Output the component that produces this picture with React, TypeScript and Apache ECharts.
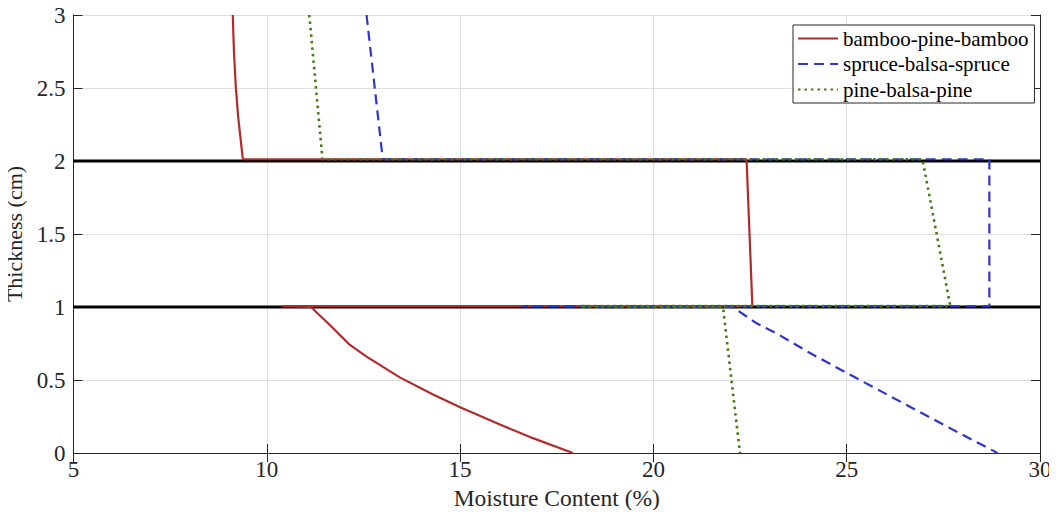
import React, { useEffect, useRef } from "react";
import * as echarts from "echarts";

const seriesNames = ["bamboo-pine-bamboo", "spruce-balsa-spruce", "pine-balsa-pine"];

const bambooPineBamboo: [number, number][] = [
  [9.12, 3.0], [9.15, 2.75], [9.2, 2.5], [9.26, 2.3], [9.38, 2.012],
  [22.41, 2.012], [22.56, 1.006], [10.4, 1.006], [11.14, 1.0],
  [11.63, 0.877], [12.15, 0.74], [12.58, 0.66], [13.44, 0.518],
  [14.3, 0.4], [15.0, 0.313], [16.03, 0.195], [16.9, 0.1], [17.92, 0.0],
];

const spruceBalsaSpruce: [number, number][] = [
  [12.58, 3.0], [13.0, 2.012], [28.69, 2.012], [28.69, 1.006], [16.6, 1.006],
  [22.05, 1.0], [22.67, 0.888], [23.18, 0.82], [24.05, 0.685], [25.2, 0.52],
  [26.4, 0.35], [27.6, 0.18], [28.9, 0.0],
];

const pineBalsaPine: [number, number][] = [
  [11.1, 3.0], [11.44, 2.012], [26.96, 2.012], [27.68, 1.006], [18.1, 1.006],
  [21.8, 1.0], [22.24, 0.0],
];

const interfaceLevels = [1, 2];
const xRange = [5, 30];
const yRange = [0, 3];

const FONT = "Liberation Serif";
const AXIS_COLOR = "#262626";

export default function App() {
  const ref = useRef<HTMLDivElement>(null);
  useEffect(() => {
    if (!ref.current) return;
    const chart = echarts.init(ref.current, undefined, { renderer: "svg" });
    const tickCommon = { show: true, inside: true, length: 9, lineStyle: { color: AXIS_COLOR } };
    const lineCommon = { show: true, lineStyle: { color: AXIS_COLOR, width: 1 } };
    chart.setOption({
      animation: false,
      backgroundColor: "#fff",
      textStyle: { fontFamily: FONT },
      grid: {
        left: 73.5, right: 17, top: 15, bottom: 65,
        containLabel: false,
        outerBoundsMode: "none",
      },
      legend: {
        data: seriesNames,
        orient: "vertical",
        left: 793,
        top: 25,
        backgroundColor: "#fff",
        borderColor: AXIS_COLOR,
        borderWidth: 1,
        borderRadius: 0,
        padding: [3, 6, 3, 4],
        itemGap: 4.5,
        itemWidth: 40,
        itemHeight: 20,
        itemStyle: { opacity: 0, borderWidth: 0 },
        textStyle: { fontFamily: FONT, fontSize: 21, color: "#000" },
      },
      xAxis: [
        {
          type: "value",
          min: xRange[0],
          max: xRange[1],
          interval: 5,
          name: "Moisture Content (%)",
          nameLocation: "middle",
          nameGap: 31,
          nameTextStyle: { fontFamily: FONT, fontSize: 23.5, color: AXIS_COLOR },
          axisLine: lineCommon,
          axisTick: tickCommon,
          axisLabel: { fontFamily: FONT, fontSize: 23, color: AXIS_COLOR, margin: 5 },
          splitLine: { show: true, lineStyle: { color: "#dedede", width: 1 } },
        },
        {
          type: "value",
          position: "top",
          min: xRange[0],
          max: xRange[1],
          interval: 5,
          axisLine: lineCommon,
          axisTick: tickCommon,
          axisLabel: { show: false },
          splitLine: { show: false },
        },
      ],
      yAxis: [
        {
          type: "value",
          min: yRange[0],
          max: yRange[1],
          interval: 0.5,
          name: "Thickness (cm)",
          nameLocation: "middle",
          nameGap: 44,
          nameTextStyle: { fontFamily: FONT, fontSize: 22, color: AXIS_COLOR },
          axisLine: lineCommon,
          axisTick: tickCommon,
          axisLabel: { fontFamily: FONT, fontSize: 23, color: AXIS_COLOR, margin: 8 },
          splitLine: { show: true, lineStyle: { color: "#dedede", width: 1 } },
        },
        {
          type: "value",
          position: "right",
          min: yRange[0],
          max: yRange[1],
          interval: 0.5,
          axisLine: lineCommon,
          axisTick: tickCommon,
          axisLabel: { show: false },
          splitLine: { show: false },
        },
      ],
      series: [
        ...interfaceLevels.map((lv, i) => ({
          name: "interface" + i,
          type: "line",
          data: [[xRange[0], lv], [xRange[1], lv]],
          symbol: "none",
          silent: true,
          lineStyle: { color: "#000", width: 3 },
          z: 1,
        })),
        {
          name: seriesNames[0],
          type: "line",
          data: bambooPineBamboo,
          symbol: "none",
          color: "#b22b2b",
          lineStyle: { color: "#b22b2b", width: 2.2, type: "solid" },
          z: 3,
        },
        {
          name: seriesNames[1],
          type: "line",
          data: spruceBalsaSpruce,
          symbol: "none",
          color: "#2f35c8",
          lineStyle: { color: "#2f35c8", width: 2.2, type: [10, 6] },
          z: 4,
        },
        {
          name: seriesNames[2],
          type: "line",
          data: pineBalsaPine,
          symbol: "none",
          color: "#467a14",
          lineStyle: { color: "#467a14", width: 2.6, type: [2.5, 4] },
          z: 5,
        },
      ],
    });
    return () => chart.dispose();
  }, []);
  return <div ref={ref} style={{ width: 1057, height: 518, margin: -8 }} />;
}
